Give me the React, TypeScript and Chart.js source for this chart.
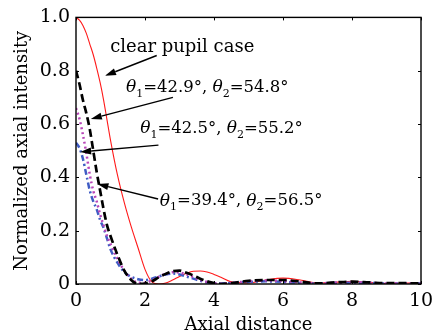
import React, { useEffect, useRef } from 'react';
import { Chart, registerables } from 'chart.js';

Chart.register(...registerables);

const distance = [0, 0.1, 0.2, 0.3, 0.4, 0.5, 0.6, 0.7, 0.8, 0.9, 1.0, 1.2, 1.4, 1.6, 1.8, 2.0, 2.2, 2.4, 2.6, 2.8, 3.0, 3.2, 3.4, 3.6, 3.8, 4.0, 4.2, 4.5, 5.0, 5.5, 6.0, 6.5, 7.0, 7.5, 8.0, 8.5, 9.0, 9.5, 10];

const clearPupil = [1.0, 0.99, 0.97, 0.94, 0.9, 0.86, 0.81, 0.755, 0.69, 0.615, 0.54, 0.41, 0.305, 0.215, 0.135, 0.055, 0.008, 0.0, 0.004, 0.015, 0.028, 0.04, 0.048, 0.049, 0.045, 0.036, 0.025, 0.008, 0.004, 0.015, 0.022, 0.015, 0.004, 0.006, 0.01, 0.006, 0.002, 0.004, 0.003];

const case429 = [0.8, 0.75, 0.69, 0.64, 0.58, 0.5, 0.42, 0.35, 0.28, 0.22, 0.18, 0.11, 0.05, 0.015, 0.0, 0.002, 0.01, 0.025, 0.038, 0.048, 0.05, 0.042, 0.032, 0.02, 0.01, 0.003, 0.0, 0.003, 0.012, 0.015, 0.015, 0.009, 0.002, 0.006, 0.009, 0.006, 0.003, 0.003, 0.002];

const case425 = [0.66, 0.62, 0.56, 0.49, 0.41, 0.35, 0.31, 0.26, 0.22, 0.18, 0.15, 0.095, 0.05, 0.02, 0.005, 0.005, 0.014, 0.027, 0.038, 0.044, 0.043, 0.036, 0.026, 0.016, 0.008, 0.002, 0.001, 0.004, 0.01, 0.013, 0.011, 0.006, 0.002, 0.005, 0.007, 0.005, 0.002, 0.003, 0.002];

const case394 = [0.53, 0.51, 0.47, 0.41, 0.35, 0.31, 0.28, 0.24, 0.21, 0.17, 0.13, 0.08, 0.045, 0.027, 0.018, 0.015, 0.02, 0.028, 0.036, 0.039, 0.036, 0.028, 0.02, 0.012, 0.006, 0.003, 0.002, 0.004, 0.008, 0.01, 0.008, 0.004, 0.002, 0.004, 0.005, 0.004, 0.002, 0.002, 0.002];

const xTicks = [0, 2, 4, 6, 8, 10];
const yTicks = [0, 0.2, 0.4, 0.6, 0.8, 1.0];

// annotation text and arrows in data coordinates
const labelTexts = [
  { kind: 'plain', text: 'clear pupil case', x: 0.99, y: 0.886, fromX: 2.34, fromY: 0.857, toX: 0.84, toY: 0.781 },
  { kind: 'theta', a: '42.9°', b: '54.8°', x: 1.45, y: 0.736, fromX: 2.81, fromY: 0.7, toX: 0.43, toY: 0.619 },
  { kind: 'theta', a: '42.5°', b: '55.2°', x: 1.86, y: 0.582, fromX: 2.39, fromY: 0.521, toX: 0.12, toY: 0.495 },
  { kind: 'theta', a: '39.4°', b: '56.5°', x: 2.43, y: 0.311, fromX: 2.38, fromY: 0.319, toX: 0.62, toY: 0.375 },
];

const SERIF = '"DejaVu Serif", serif';

function toPts(ys: number[]) {
  return ys.map((y, i) => ({ x: distance[i], y }));
}

const framePlugin = {
  id: 'frame',
  afterDraw(chart: any) {
    const { ctx, chartArea: a, scales } = chart;
    ctx.save();
    ctx.strokeStyle = '#000';
    ctx.lineWidth = 1.4;
    ctx.strokeRect(a.left, a.top, a.right - a.left, a.bottom - a.top);
    ctx.lineWidth = 1;
    for (const v of yTicks) {
      const py = Math.round(scales.y.getPixelForValue(v)) + 0.5;
      ctx.beginPath();
      ctx.moveTo(a.left, py);
      ctx.lineTo(a.left + 3, py);
      ctx.moveTo(a.right, py);
      ctx.lineTo(a.right - 3, py);
      ctx.stroke();
    }
    for (const v of xTicks) {
      const px = Math.round(scales.x.getPixelForValue(v)) + 0.5;
      ctx.beginPath();
      ctx.moveTo(px, a.bottom);
      ctx.lineTo(px, a.bottom - 3);
      ctx.moveTo(px, a.top);
      ctx.lineTo(px, a.top + 3);
      ctx.stroke();
    }

    // annotations
    ctx.fillStyle = '#000';
    ctx.textBaseline = 'middle';
    ctx.textAlign = 'left';
    for (const l of labelTexts) {
      const tx = scales.x.getPixelForValue(l.x);
      const ty = scales.y.getPixelForValue(l.y);
      if (l.kind === 'plain') {
        ctx.font = `18px ${SERIF}`;
        ctx.fillText(l.text, tx, ty);
      } else {
        let cx = tx;
        const put = (s: string, font: string, dy: number) => {
          ctx.font = font;
          ctx.fillText(s, cx, ty + dy);
          cx += ctx.measureText(s).width;
        };
        const main = `16.5px ${SERIF}`;
        const ital = `italic 17px ${SERIF}`;
        const sub = `11px ${SERIF}`;
        put('θ', ital, 0);
        put('1', sub, 6);
        put('=' + l.a + ', ', main, 0);
        put('θ', ital, 0);
        put('2', sub, 6);
        put('=' + l.b, main, 0);
      }
      // arrow
      const fx = scales.x.getPixelForValue(l.fromX);
      const fy = scales.y.getPixelForValue(l.fromY);
      const hx = scales.x.getPixelForValue(l.toX);
      const hy = scales.y.getPixelForValue(l.toY);
      const ang = Math.atan2(hy - fy, hx - fx);
      const len = 11;
      const hw = 3.5;
      const bx = hx - len * Math.cos(ang);
      const by = hy - len * Math.sin(ang);
      ctx.lineWidth = 1.4;
      ctx.strokeStyle = '#000';
      ctx.beginPath();
      ctx.moveTo(fx, fy);
      ctx.lineTo(bx, by);
      ctx.stroke();
      ctx.beginPath();
      ctx.moveTo(hx, hy);
      ctx.lineTo(bx + hw * Math.sin(ang), by - hw * Math.cos(ang));
      ctx.lineTo(bx - hw * Math.sin(ang), by + hw * Math.cos(ang));
      ctx.closePath();
      ctx.fill();
    }
    ctx.restore();
  },
};

export default function App() {
  const ref = useRef<HTMLCanvasElement | null>(null);
  useEffect(() => {
    if (!ref.current) return;
    const chart = new Chart(ref.current, {
      type: 'line',
      data: {
        datasets: [
          { label: 'clear pupil case', data: toPts(clearPupil), borderColor: '#ff1a1a', borderWidth: 1.1, pointRadius: 0, cubicInterpolationMode: 'monotone', order: 4 },
          { label: '39.4/56.5', data: toPts(case394), borderColor: '#3f5cc4', borderWidth: 2.5, borderDash: [6, 3, 2, 3], pointRadius: 0, cubicInterpolationMode: 'monotone', order: 3 },
          { label: '42.5/55.2', data: toPts(case425), borderColor: '#b845b8', borderWidth: 2.5, borderDash: [2, 3], pointRadius: 0, cubicInterpolationMode: 'monotone', order: 2 },
          { label: '42.9/54.8', data: toPts(case429), borderColor: '#000000', borderWidth: 2.7, borderDash: [8, 4], pointRadius: 0, cubicInterpolationMode: 'monotone', order: 1 },
        ],
      },
      options: {
        responsive: false,
        animation: false,
        devicePixelRatio: 1,
        layout: { padding: { left: 0, top: 11, right: 24, bottom: 0 } },
        plugins: { legend: { display: false }, tooltip: { enabled: false } },
        scales: {
          x: {
            type: 'linear',
            min: 0,
            max: 10,
            afterBuildTicks: (s: any) => { s.ticks = xTicks.map((v) => ({ value: v })); },
            afterFit: (s: any) => { s.height = 50; },
            grid: { display: false, drawTicks: false },
            border: { display: false },
            ticks: { color: '#000', padding: 6, font: { family: SERIF, size: 19 }, callback: (v: any) => String(v) },
            title: { display: true, text: 'Axial distance', color: '#000', font: { family: SERIF, size: 18 }, padding: { top: 0, bottom: -2 } },
          },
          y: {
            type: 'linear',
            min: 0,
            max: 1,
            afterBuildTicks: (s: any) => { s.ticks = yTicks.map((v) => ({ value: v })); },
            afterFit: (s: any) => { s.width = 76; },
            grid: { display: false, drawTicks: false },
            border: { display: false },
            ticks: { color: '#000', padding: 6, font: { family: SERIF, size: 19 }, callback: (v: any) => (v === 0 ? '0' : Number(v).toFixed(1)) },
            title: { display: true, text: 'Normalized axial intensity', color: '#000', font: { family: SERIF, size: 18 }, padding: { top: 12, bottom: 0 } },
          },
        },
      },
      plugins: [framePlugin],
    } as any);
    return () => chart.destroy();
  }, []);
  return (
    <div style={{ position: 'fixed', left: 0, top: 0, width: 445, height: 334, background: '#fff' }}>
      <canvas ref={ref} width={445} height={334} style={{ width: 445, height: 334 }} />
    </div>
  );
}
